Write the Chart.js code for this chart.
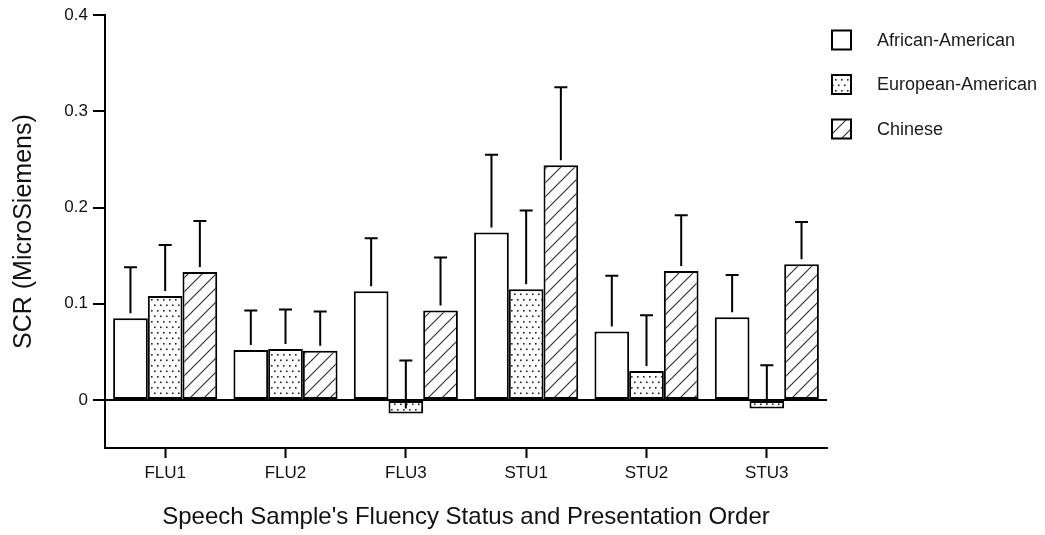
<!DOCTYPE html>
<html>
<head>
<meta charset="utf-8">
<script src="https://cdn.jsdelivr.net/npm/chart.js@4"></script>
<style>
  html, body { margin: 0; padding: 0; background: #fff; }
  #wrap { width: 1045px; height: 535px; }
</style>
</head>
<body>
<div id="wrap"><canvas id="myChart"></canvas></div>
<script>
// data (SCR means and upper error bars)
var categories = ['FLU1', 'FLU2', 'FLU3', 'STU1', 'STU2', 'STU3'];
var groupNames = ['African-American', 'European-American', 'Chinese'];

var africanMean = [0.085, 0.052, 0.113, 0.174, 0.071, 0.086];
var africanErr = [0.053, 0.041, 0.055, 0.081, 0.058, 0.044];

var europeanMean = [0.108, 0.053, -0.014, 0.115, 0.030, -0.009];
var europeanErr = [0.053, 0.041, 0.055, 0.082, 0.058, 0.045];

var chineseMean = [0.133, 0.051, 0.093, 0.244, 0.134, 0.141];
var chineseErr = [0.053, 0.041, 0.055, 0.081, 0.058, 0.044];

var yTicks = [0, 0.1, 0.2, 0.3, 0.4];

var FONT = "'Liberation Sans', Arial, sans-serif";

var canvas = document.getElementById('myChart');
var ctx = canvas.getContext('2d');

// fill patterns
function makeDots() {
    var c = document.createElement('canvas');
    c.width = 6; c.height = 11;
    var g = c.getContext('2d');
    g.fillStyle = '#fff';
    g.fillRect(0, 0, 6, 11);
    g.fillStyle = '#222';
    g.fillRect(1, 2, 1.6, 1.6);
    g.fillRect(4, 7.5, 1.6, 1.6);
    return ctx.createPattern(c, 'repeat');
}

function makeHatch() {
    var s = 14;
    var c = document.createElement('canvas');
    c.width = s; c.height = s;
    var g = c.getContext('2d');
    g.fillStyle = '#fff';
    g.fillRect(0, 0, s, s);
    g.strokeStyle = '#333';
    g.lineWidth = 1.2;
    g.beginPath();
    g.moveTo(0, s); g.lineTo(s, 0);
    g.moveTo(-2, 2); g.lineTo(2, -2);
    g.moveTo(s - 2, s + 2); g.lineTo(s + 2, s - 2);
    g.stroke();
    return ctx.createPattern(c, 'repeat');
}

var fills = ['#ffffff', makeDots(), makeHatch()];

// upward error bars with caps
var errorBars = {
    id: 'errorBars',
    afterDatasetsDraw: function (chart) {
        var c = chart.ctx;
        var y = chart.scales.y;
        c.save();
        c.strokeStyle = '#000';
        c.lineWidth = 2;
        chart.data.datasets.forEach(function (ds, i) {
            var meta = chart.getDatasetMeta(i);
            meta.data.forEach(function (bar, j) {
                var top = y.getPixelForValue(ds.data[j] + ds.errors[j]);
                var start = y.getPixelForValue(ds.data[j]) - 5;
                c.beginPath();
                c.moveTo(bar.x, start);
                c.lineTo(bar.x, top);
                c.moveTo(bar.x - 6.5, top);
                c.lineTo(bar.x + 6.5, top);
                c.stroke();
            });
        });
        c.restore();
    }
};

// legend on the right, boxes filled like the bars
var sideLegend = {
    id: 'sideLegend',
    afterDraw: function (chart) {
        var c = chart.ctx;
        var x0 = chart.chartArea.right + 5;
        c.save();
        chart.data.datasets.forEach(function (ds, i) {
            var cy = 40 + i * 44.5;
            c.fillStyle = ds.backgroundColor;
            c.fillRect(x0, cy - 9.5, 19, 19);
            c.strokeStyle = '#000';
            c.lineWidth = 2;
            c.strokeRect(x0, cy - 9.5, 19, 19);
            c.fillStyle = '#1a1a1a';
            c.font = '18px ' + FONT;
            c.textBaseline = 'middle';
            c.textAlign = 'left';
            c.fillText(ds.label, x0 + 45, cy + 1);
        });
        c.restore();
    }
};

function barSet(idx, means, errs) {
    return {
        label: groupNames[idx],
        data: means,
        errors: errs,
        backgroundColor: fills[idx],
        borderColor: '#000',
        borderWidth: 2,
        borderSkipped: false,
        barPercentage: 1,
        categoryPercentage: 0.865
    };
}

var myChart = new Chart(ctx, {
    type: 'bar',
    data: {
        labels: categories,
        datasets: [
            barSet(0, africanMean, africanErr),
            barSet(1, europeanMean, europeanErr),
            barSet(2, chineseMean, chineseErr)
        ]
    },
    options: {
        responsive: true,
        maintainAspectRatio: false,
        animation: false,
        layout: { padding: { top: 15, right: 218, bottom: 0, left: 0 } },
        plugins: {
            legend: { display: false },
            tooltip: { enabled: false }
        },
        scales: {
            x: {
                offset: true,
                grid: {
                    offset: false,
                    drawOnChartArea: false,
                    drawTicks: true,
                    tickLength: 10,
                    tickColor: '#000',
                    tickWidth: 2
                },
                border: { display: true, color: '#000', width: 2 },
                ticks: {
                    color: '#111',
                    padding: 5,
                    font: { family: FONT, size: 17 }
                },
                title: {
                    display: true,
                    text: "Speech Sample's Fluency Status and Presentation Order",
                    color: '#111',
                    font: { family: FONT, size: 24 },
                    padding: { top: 0, bottom: 3 }
                },
                afterFit: function (scale) { scale.height = 87; }
            },
            y: {
                min: -0.05,
                max: 0.4,
                afterBuildTicks: function (scale) {
                    scale.ticks = yTicks.map(function (v) { return { value: v }; });
                },
                grid: {
                    drawOnChartArea: true,
                    drawTicks: true,
                    tickLength: 12,
                    tickColor: '#000',
                    tickWidth: 2,
                    lineWidth: 2,
                    color: function (c) {
                        return c.tick && c.tick.value === 0 ? '#000' : 'rgba(0,0,0,0)';
                    }
                },
                border: { display: true, color: '#000', width: 2 },
                ticks: {
                    color: '#111',
                    padding: 5,
                    font: { family: FONT, size: 17 },
                    callback: function (v) { return v === 0 ? '0' : v.toFixed(1); }
                },
                title: {
                    display: true,
                    text: 'SCR (MicroSiemens)',
                    color: '#111',
                    font: { family: FONT, size: 25 },
                    padding: { top: 9, bottom: 0 }
                },
                afterFit: function (scale) { scale.width = 105; }
            }
        }
    },
    plugins: [errorBars, sideLegend]
});
</script>
</body>
</html>
